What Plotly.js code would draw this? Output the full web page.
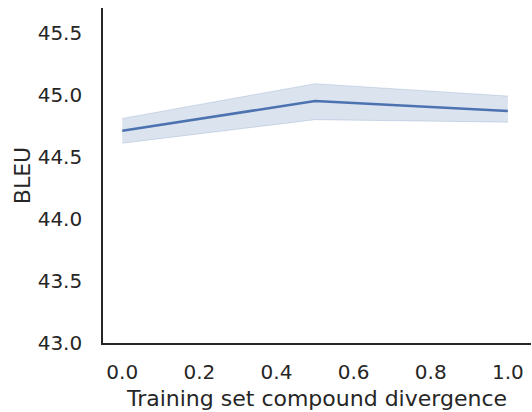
<!DOCTYPE html>
<html><head><meta charset="utf-8">
<script src="https://cdn.plot.ly/plotly-3.0.1.min.js"></script>
<style>html,body{margin:0;padding:0;background:#fff}#chart{width:532px;height:412px}</style>
</head><body><div id="chart"></div>
<script>
const divergence = [0.0, 0.5, 1.0];
const bleuMean = [44.71, 44.95, 44.87];
const bleuLow = [44.61, 44.80, 44.78];
const bleuHigh = [44.81, 45.09, 44.99];
const xTicks = [0.0, 0.2, 0.4, 0.6, 0.8, 1.0];
const yTicks = [43.0, 43.5, 44.0, 44.5, 45.0, 45.5];

const font = '"DejaVu Sans", sans-serif';
const traces = [
  {x: divergence, y: bleuLow, mode: 'lines', line: {color: 'rgba(76,114,176,0.2)', width: 1}, showlegend: false, hoverinfo: 'skip'},
  {x: divergence, y: bleuHigh, mode: 'lines', fill: 'tonexty', fillcolor: 'rgba(76,114,176,0.2)', line: {color: 'rgba(76,114,176,0.2)', width: 1}, showlegend: false, hoverinfo: 'skip'},
  {x: divergence, y: bleuMean, mode: 'lines', line: {color: '#4c72b0', width: 2.6}, showlegend: false}
];
const layout = {
  width: 532, height: 412,
  margin: {l: 103, r: 1, t: 8, b: 69},
  paper_bgcolor: '#fff', plot_bgcolor: '#fff',
  font: {family: font, color: '#262626', size: 20},
  xaxis: {
    range: [-0.05, 1.06], tickvals: xTicks, ticktext: xTicks.map(v => v.toFixed(1)),
    showgrid: false, zeroline: false, showline: true, linecolor: '#262626', linewidth: 1.8,
    ticks: '', ticklabelstandoff: 10,
    tickfont: {family: font, size: 20, color: '#262626'},
    title: {text: 'Training set compound divergence', font: {family: font, size: 22, color: '#262626'}, standoff: 8}
  },
  yaxis: {
    range: [43.0, 45.70], tickvals: yTicks, ticktext: yTicks.map(v => v.toFixed(1)),
    showgrid: false, zeroline: false, showline: true, linecolor: '#262626', linewidth: 1.8,
    ticks: '', ticklabelstandoff: 15,
    tickfont: {family: font, size: 20, color: '#262626'},
    title: {text: 'BLEU', font: {family: font, size: 22, color: '#262626'}, standoff: 1}
  }
};
Plotly.newPlot('chart', traces, layout, {displayModeBar: false, staticPlot: true});
</script></body></html>
